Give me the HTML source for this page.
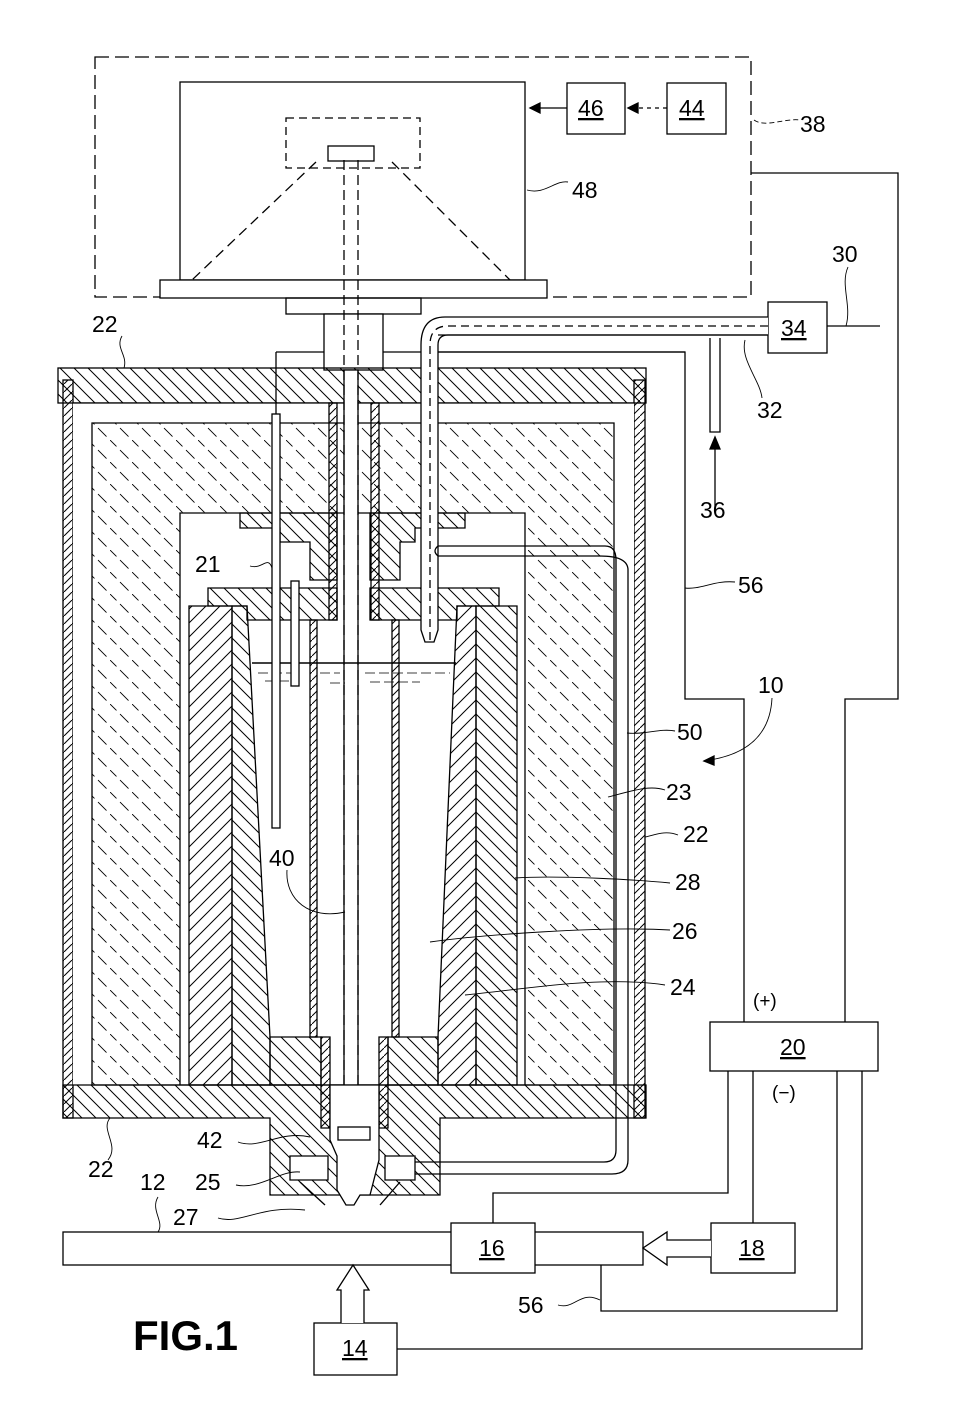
<!DOCTYPE html>
<html><head><meta charset="utf-8"><style>
html,body{margin:0;padding:0;background:#fff}
svg{display:block}
text{font-family:"Liberation Sans",sans-serif;font-size:23px;fill:#000}
.u{text-decoration:underline}
</style></head><body>
<svg width="958" height="1404" viewBox="0 0 958 1404" xmlns="http://www.w3.org/2000/svg">
<defs>
<pattern id="hb" patternUnits="userSpaceOnUse" width="14" height="14"><path d="M-2,-2 L16,16 M-2,12 L2,16 M12,-2 L16,2" stroke="#000" stroke-width="1"/></pattern>
<pattern id="hf" patternUnits="userSpaceOnUse" width="14" height="14"><path d="M16,-2 L-2,16 M2,-2 L-2,2 M16,12 L12,16" stroke="#000" stroke-width="1"/></pattern>
<pattern id="hs" patternUnits="userSpaceOnUse" width="8" height="8"><path d="M9,-1 L-1,9" stroke="#000" stroke-width="1"/></pattern>
<pattern id="ins" patternUnits="userSpaceOnUse" width="22" height="22"><path d="M-2,-2 L24,24" stroke="#000" stroke-width="0.9" stroke-dasharray="12,5"/></pattern>
</defs>
<g fill="none" stroke="#000" stroke-width="1.3">
<rect x="95" y="57" width="656" height="240" stroke-dasharray="14,6"/>
<rect x="180" y="82" width="345" height="198"/>
<rect x="286" y="118" width="134" height="50" stroke-dasharray="8,5"/>
<rect x="328" y="146" width="46" height="15"/>
<path d="M316,162 L192,280 M392,162 L510,280" stroke-dasharray="10,6"/>
<rect x="567" y="83" width="58" height="51"/>
<rect x="667" y="83" width="59" height="51"/>
<path d="M567,108 L530,108"/><path d="M530,108 l10,-5 v10z" fill="#000"/>
<path d="M667,108 L630,108" stroke-dasharray="4,4"/><path d="M628,108 l10,-5 v10z" fill="#000"/>
<rect x="160" y="280" width="387" height="18" fill="#fff"/>
<rect x="286" y="298" width="135" height="16"/>
<rect x="324" y="314" width="59" height="56" fill="#fff"/>
<path d="M751,173 H898 V699 H845 V1022"/>
<path d="M276,352 H324 M383,352 H685 V699 H744 V1022"/>
<rect x="768" y="302" width="59" height="51" fill="#fff"/>
<path d="M827,326 H880"/>
<path d="M710,338 V432 H720 V338"/>
<path d="M715,510 V445"/><path d="M715,437 l-5,12 h10z" fill="#000"/>
<rect x="58" y="368" width="588" height="35" fill="url(#hb)"/>
<rect x="63" y="380" width="10" height="738" fill="url(#hs)"/>
<rect x="634" y="380" width="11" height="738" fill="url(#hs)"/>
<rect x="73" y="403" width="561" height="682" fill="#fff" stroke="none"/>
<path d="M73,403 H634"/>
<path d="M92,423 H614 V1085 H92 Z M180,513 V1085 H525 V513 Z" fill="url(#ins)" fill-rule="evenodd"/>
<path d="M240,513 H337 V580 H310 V542 H280 V528 H240 Z" fill="url(#hb)"/>
<path d="M370,513 H465 V528 H415 V542 H400 V580 H370 Z" fill="url(#hb)"/>
<rect x="329" y="403" width="8" height="217" fill="url(#hs)"/>
<rect x="371" y="403" width="8" height="217" fill="url(#hs)"/>
<rect x="344" y="370" width="14" height="758" fill="#fff"/>
<path d="M344,160 V1128 M358,160 V1128" stroke-dasharray="10,5"/>
<path d="M208,588 H337 V620 H247 V606 H208 Z" fill="url(#hb)"/>
<path d="M370,588 H499 V606 H457 V620 H370 Z" fill="url(#hb)"/>
<path d="M189,606 H232 V1085 H189 Z" fill="url(#hf)"/>
<path d="M232,606 H247 L270,1037 V1085 H232 Z" fill="url(#hb)"/>
<path d="M476,606 H517 V1085 H476 Z" fill="url(#hb)"/>
<path d="M457,606 H476 V1085 H438 V1037 Z" fill="url(#hf)"/>
<path d="M270,1037 H321 V1085 H270 Z M388,1037 H438 V1085 H388 Z" fill="url(#hb)"/>
<rect x="310" y="620" width="7" height="417" fill="url(#hs)"/>
<rect x="392" y="620" width="7" height="417" fill="url(#hs)"/>
<path d="M252,663 H456" stroke-width="1.6"/>
<path d="M258,673 H300 M320,673 H340 M365,673 H450 M265,681 H290 M330,683 H345 M370,682 H420" stroke-width="0.8" stroke-dasharray="10,4"/>
<!-- thermocouple 21 -->
<path d="M276,352 V414"/>
<rect x="272" y="414" width="8" height="414" fill="#fff"/>
<rect x="291" y="581" width="8" height="105" fill="#fff"/>
<!-- pipe from 34 (drawn over lid) -->
<path d="M768,317 H445 Q421,317 421,345 V630 L425,642 H434 L438,630 V345 Q438,335 448,335 H768" fill="#fff"/>
<path d="M768,326 H448 Q430,326 430,345 V640" stroke-dasharray="8,5"/>
<path d="M768,336 H440" stroke="#fff" stroke-width="0"/>
<path d="M438,352 H685" />
<path d="M438,335 H768"/>
<path d="M63,1085 H646 V1118 H440 V1195 H270 V1118 H63 Z" fill="url(#hb)"/>
<path d="M321,1037 H330 V1128 H321 Z M379,1037 H388 V1128 H379 Z" fill="url(#hs)"/>
<path d="M330,1085 V1140 L337,1156 V1190 L346,1205 H354 L360,1195 L370,1195 L379,1160 V1085 Z" fill="#fff"/>
<path d="M290,1156 H328 V1180 H290 Z M385,1156 H415 V1180 H385 Z" fill="#fff"/>
<path d="M300,1182 L325,1205 M400,1182 L380,1205"/>
<rect x="338" y="1127" width="32" height="13" fill="#fff"/>
<!-- pipe 50 -->
<path d="M438,546 H605 Q616,546 616,560 V1150 Q616,1162 604,1162 H415 M438,556 H600 Q628,556 628,570 V1160 Q628,1174 612,1174 H415"/>
<path d="M438,546 Q432,551 438,556"/>
<rect x="710" y="1022" width="168" height="49" fill="#fff"/>
<path d="M728,1071 V1193 H493 V1223 M753,1071 V1223 M837,1071 V1311 H601 V1265 M862,1071 V1349 H397"/>
<rect x="63" y="1232" width="580" height="33" fill="#fff"/>
<rect x="451" y="1223" width="84" height="50" fill="#fff"/>
<rect x="711" y="1223" width="84" height="50" fill="#fff"/>
<rect x="314" y="1323" width="83" height="52" fill="#fff"/>
<path d="M711,1240 H667 V1232 L643,1248 L667,1265 V1257 H711" fill="#fff"/>
<path d="M341,1323 V1290 H337 L353,1265 L369,1290 H364 V1323" fill="#fff"/>
<path d="M527,190 C545,195 555,180 568,182" stroke-width="0.9"/>
<path d="M754,120 C765,128 785,118 800,120" stroke-width="0.9" stroke-dasharray="5,3"/>
<path d="M848,267 C840,285 852,305 846,326" stroke-width="0.9"/>
<path d="M745,340 C740,360 760,380 762,398" stroke-width="0.9"/>
<path d="M122,336 C115,348 128,355 124,368" stroke-width="0.9"/>
<path d="M250,566 C262,570 268,555 272,568" stroke-width="0.9"/>
<path d="M685,588 C700,590 715,580 735,582" stroke-width="0.9"/>
<path d="M772,698 C770,740 740,755 710,760" stroke-width="0.9"/><path d="M704,761 l10,-5 v9z" fill="#000"/>
<path d="M627,733 C645,735 660,728 675,731" stroke-width="0.9"/>
<path d="M608,797 C635,790 650,785 665,790" stroke-width="0.9"/>
<path d="M645,837 C655,835 665,830 678,835" stroke-width="0.9"/>
<path d="M515,878 C560,875 640,880 670,883" stroke-width="0.9"/>
<path d="M430,942 C480,935 600,926 670,930" stroke-width="0.9"/>
<path d="M465,995 C520,990 600,975 665,985" stroke-width="0.9"/>
<path d="M287,870 C285,900 310,920 345,912" stroke-width="0.9"/>
<path d="M238,1142 C260,1150 280,1130 310,1137" stroke-width="0.9"/>
<path d="M110,1118 C100,1130 120,1145 108,1160" stroke-width="0.9"/>
<path d="M236,1185 C260,1190 280,1170 300,1172" stroke-width="0.9"/>
<path d="M158,1197 C150,1210 165,1222 158,1232" stroke-width="0.9"/>
<path d="M218,1218 C240,1225 260,1205 305,1210" stroke-width="0.9"/>
<path d="M558,1305 C575,1310 580,1290 600,1300" stroke-width="0.9"/>
</g>
<g>
<text x="800" y="132">38</text><text x="572" y="198">48</text>
<text class="u" x="578" y="116">46</text><text class="u" x="679" y="116">44</text>
<text x="832" y="262">30</text><text class="u" x="781" y="336">34</text>
<text x="757" y="418">32</text><text x="700" y="518">36</text>
<text x="92" y="332">22</text><text x="195" y="572">21</text>
<text x="738" y="593">56</text><text x="758" y="693">10</text>
<text x="677" y="740">50</text><text x="666" y="800">23</text>
<text x="683" y="842">22</text><text x="675" y="890">28</text>
<text x="672" y="939">26</text><text x="670" y="995">24</text>
<text x="269" y="866">40</text>
<text x="753" y="1007" style="font-size:19px">(+)</text>
<text class="u" x="780" y="1055">20</text>
<text x="772" y="1099" style="font-size:19px">(−)</text>
<text x="197" y="1148">42</text><text x="88" y="1177">22</text>
<text x="195" y="1190">25</text><text x="140" y="1190">12</text>
<text x="173" y="1225">27</text>
<text class="u" x="479" y="1256">16</text><text class="u" x="739" y="1256">18</text>
<text x="518" y="1313">56</text><text class="u" x="342" y="1356">14</text>
<text x="133" y="1350" style="font-size:42px;font-weight:bold">FIG.1</text>
</g>
</svg>
</body></html>
